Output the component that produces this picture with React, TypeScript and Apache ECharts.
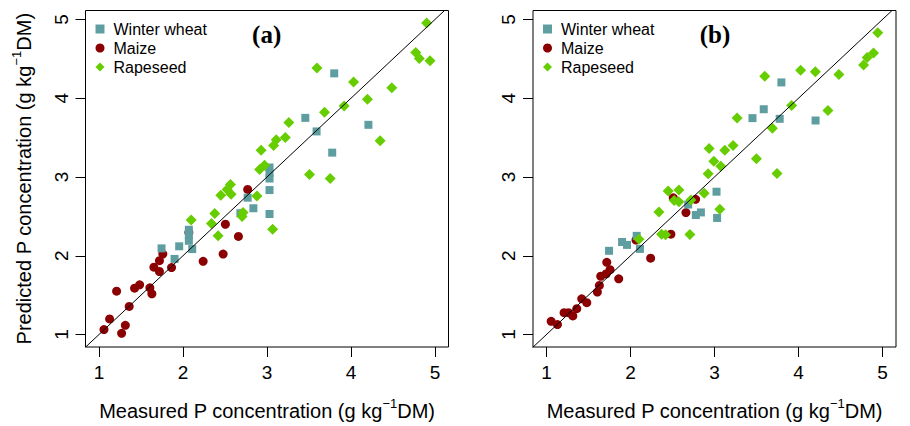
import React, { useEffect, useRef } from "react";
import * as echarts from "echarts";

const tickValues = [1, 2, 3, 4, 5];
const seriesNames = ["Winter wheat", "Maize", "Rapeseed"];
const panelLabels = ["(a)", "(b)"];

const wheatA = [
  [3.8, 4.315], [3.456, 3.75], [3.59, 3.578], [4.207, 3.662], [3.776, 3.309],
  [3.03, 3.12], [3.03, 3.05], [3.03, 2.98], [3.03, 2.834], [3.03, 2.53],
  [2.77, 2.737], [2.838, 2.603], [2.683, 2.54], [2.07, 2.33], [2.07, 2.26],
  [2.07, 2.19], [2.11, 2.085], [1.955, 2.12], [1.745, 2.094], [1.9, 1.96],
];
const maizeA = [
  [2.77, 2.842], [2.07, 2.296], [2.505, 2.4], [2.66, 2.245], [2.478, 2.022],
  [2.24, 1.93], [1.76, 2.022], [1.72, 1.938], [1.654, 1.855], [1.72, 1.8],
  [1.864, 1.85], [1.484, 1.631], [1.424, 1.589], [1.21, 1.551], [1.606, 1.593],
  [1.63, 1.517], [1.36, 1.357], [1.127, 1.198], [1.06, 1.063], [1.314, 1.117],
  [1.27, 1.016],
];
const rapeA = [
  [4.9, 4.953], [4.77, 4.58], [4.813, 4.504], [4.94, 4.474], [3.594, 4.382],
  [4.03, 4.205], [4.485, 4.133], [4.195, 3.987], [3.918, 3.902], [3.684, 3.822],
  [3.26, 3.692], [3.218, 3.502], [3.11, 3.473], [3.079, 3.4], [4.346, 3.46],
  [2.93, 3.34], [2.912, 3.095], [2.97, 3.15], [3.506, 3.03], [3.752, 2.98],
  [2.565, 2.905], [2.525, 2.842], [2.573, 2.78], [2.45, 2.767], [2.88, 2.758],
  [2.378, 2.536], [2.715, 2.548], [2.703, 2.498], [2.098, 2.455], [2.339, 2.41],
  [2.418, 2.253], [3.067, 2.338],
];

const wheatB = [
  [3.796, 4.2], [3.586, 3.86], [3.452, 3.747], [3.776, 3.738], [4.203, 3.717],
  [3.024, 2.813], [3.031, 2.48], [2.687, 2.65], [2.778, 2.517], [2.838, 2.55],
  [2.074, 2.253], [2.113, 2.087], [1.9, 2.175], [1.959, 2.138], [1.745, 2.063],
];
const maizeB = [
  [2.509, 2.735], [2.775, 2.716], [2.66, 2.548], [2.481, 2.274], [2.066, 2.2],
  [2.24, 1.97], [1.718, 1.917], [1.757, 1.824], [1.709, 1.77], [1.646, 1.74],
  [1.86, 1.707], [1.63, 1.623], [1.606, 1.539], [1.42, 1.454], [1.48, 1.404],
  [1.361, 1.328], [1.21, 1.278], [1.262, 1.278], [1.314, 1.236], [1.056, 1.168],
  [1.131, 1.126],
];
const rapeB = [
  [4.943, 4.832], [4.892, 4.575], [4.817, 4.517], [4.774, 4.42], [4.025, 4.356],
  [4.2, 4.335], [4.48, 4.3], [3.598, 4.28], [3.918, 3.906], [4.35, 3.843],
  [3.269, 3.747], [3.689, 3.62], [3.221, 3.4], [3.123, 3.338], [2.936, 3.36],
  [2.992, 3.2], [3.075, 3.137], [3.499, 3.23], [2.924, 3.04], [3.744, 3.044],
  [2.449, 2.821], [2.576, 2.834], [2.877, 2.792], [2.52, 2.703], [2.576, 2.687],
  [2.719, 2.707], [2.339, 2.556], [3.063, 2.59], [2.37, 2.274], [2.418, 2.266],
  [2.707, 2.27], [2.101, 2.21],
];

const oneToOne = [
  [0.5, 0.5],
  [5.5, 5.5],
];

const SANS = '"Liberation Sans", Arial, sans-serif';
const SERIF = '"Liberation Serif", "Times New Roman", serif';
const COLORS = { wheat: "#5f9ea0", maize: "#8b0000", rape: "#66cd00" };

const X_MIN = 0.84;
const X_MAX = 5.16;
const Y_MIN = 0.842;
const Y_MAX = 5.113;

const xTitle = "{n|Measured P concentration (g kg}{s|\u22121}{n|DM)}";
const yTitle = "{n|Predicted P concentration (g kg}{s|\u22121}{n|DM)}";

const titleRich = {
  n: { fontSize: 20, lineHeight: 24, verticalAlign: "bottom", fontFamily: SANS, color: "#000" },
  s: { fontSize: 13, lineHeight: 13, verticalAlign: "top", fontFamily: SANS, color: "#000" },
};

export default function App() {
  const ref = useRef<HTMLDivElement>(null);

  useEffect(() => {
    document.body.style.margin = "0";
    const chart = echarts.init(ref.current as HTMLDivElement, null, { renderer: "svg" });

    const gridLefts = [85.5, 533];
    const panels = [
      { wheat: wheatA, maize: maizeA, rape: rapeA },
      { wheat: wheatB, maize: maizeB, rape: rapeB },
    ];

    const grid = gridLefts.map((left) => ({
      left,
      top: 10.5,
      width: 363,
      height: 338.5,
      show: true,
      borderColor: "#000",
      borderWidth: 1,
      backgroundColor: "transparent",
      containLabel: false,
    }));

    const xAxis = gridLefts.map((_, i) => ({
      type: "value",
      gridIndex: i,
      min: X_MIN,
      max: X_MAX,
      axisLine: { show: false },
      splitLine: { show: false },
      axisTick: { show: true, length: 10, customValues: tickValues, lineStyle: { color: "#000", width: 1 } },
      axisLabel: { show: true, customValues: tickValues, fontSize: 19, color: "#000", fontFamily: SANS, margin: 16 },
      name: xTitle,
      nameLocation: "middle",
      nameGap: 50,
      nameTextStyle: { rich: titleRich },
    }));

    const yAxis = gridLefts.map((_, i) => ({
      type: "value",
      gridIndex: i,
      min: Y_MIN,
      max: Y_MAX,
      axisLine: { show: false },
      splitLine: { show: false },
      axisTick: { show: true, length: 10, customValues: tickValues, lineStyle: { color: "#000", width: 1 } },
      axisLabel: { show: true, customValues: tickValues, fontSize: 19, color: "#000", fontFamily: SANS, margin: 15, rotate: 90 },
      name: i === 0 ? yTitle : "",
      nameLocation: "middle",
      nameGap: 52,
      nameRotate: 90,
      nameTextStyle: { rich: titleRich },
    }));

    const series: any[] = [];
    panels.forEach((p, i) => {
      series.push({
        name: "Maize",
        type: "scatter",
        xAxisIndex: i,
        yAxisIndex: i,
        symbol: "circle",
        symbolSize: 9,
        itemStyle: { color: COLORS.maize, opacity: 1 },
        data: p.maize,
        z: 2,
      });
      series.push({
        name: "Winter wheat",
        type: "scatter",
        xAxisIndex: i,
        yAxisIndex: i,
        symbol: "rect",
        symbolSize: 8,
        itemStyle: { color: COLORS.wheat, opacity: 1 },
        data: p.wheat,
        z: 3,
      });
      series.push({
        name: "Rapeseed",
        type: "scatter",
        xAxisIndex: i,
        yAxisIndex: i,
        symbol: "diamond",
        symbolSize: 11,
        itemStyle: { color: COLORS.rape, opacity: 1 },
        data: p.rape,
        z: 4,
      });
      series.push({
        name: "1:1",
        type: "line",
        xAxisIndex: i,
        yAxisIndex: i,
        symbol: "none",
        clip: true,
        silent: true,
        lineStyle: { color: "#000", width: 1 },
        data: oneToOne,
        z: 6,
      });
    });

    const icons = ["rect", "circle", "diamond"];
    const legend = gridLefts.map((left) => ({
      left: left + 10,
      top: 21,
      orient: "vertical",
      padding: 0,
      itemWidth: 9,
      itemHeight: 9,
      itemGap: 3,
      selectedMode: false,
      data: seriesNames.map((name, k) => ({ name, icon: icons[k] })),
      textStyle: { fontSize: 16, color: "#000", fontFamily: SANS, lineHeight: 16, padding: [0, 0, 0, 4] },
    }));

    const graphic = panelLabels.map((text, i) => ({
      type: "text",
      x: [266.7, 715][i],
      y: 34,
      style: {
        text,
        fontSize: 25,
        fontWeight: "bold",
        fontFamily: SERIF,
        fill: "#000",
        align: "center",
        verticalAlign: "middle",
      },
    }));

    chart.setOption({
      animation: false,
      backgroundColor: "#fff",
      grid,
      xAxis,
      yAxis,
      legend,
      series,
      graphic,
    });

    return () => chart.dispose();
  }, []);

  return <div ref={ref} style={{ width: 910, height: 426 }} />;
}
